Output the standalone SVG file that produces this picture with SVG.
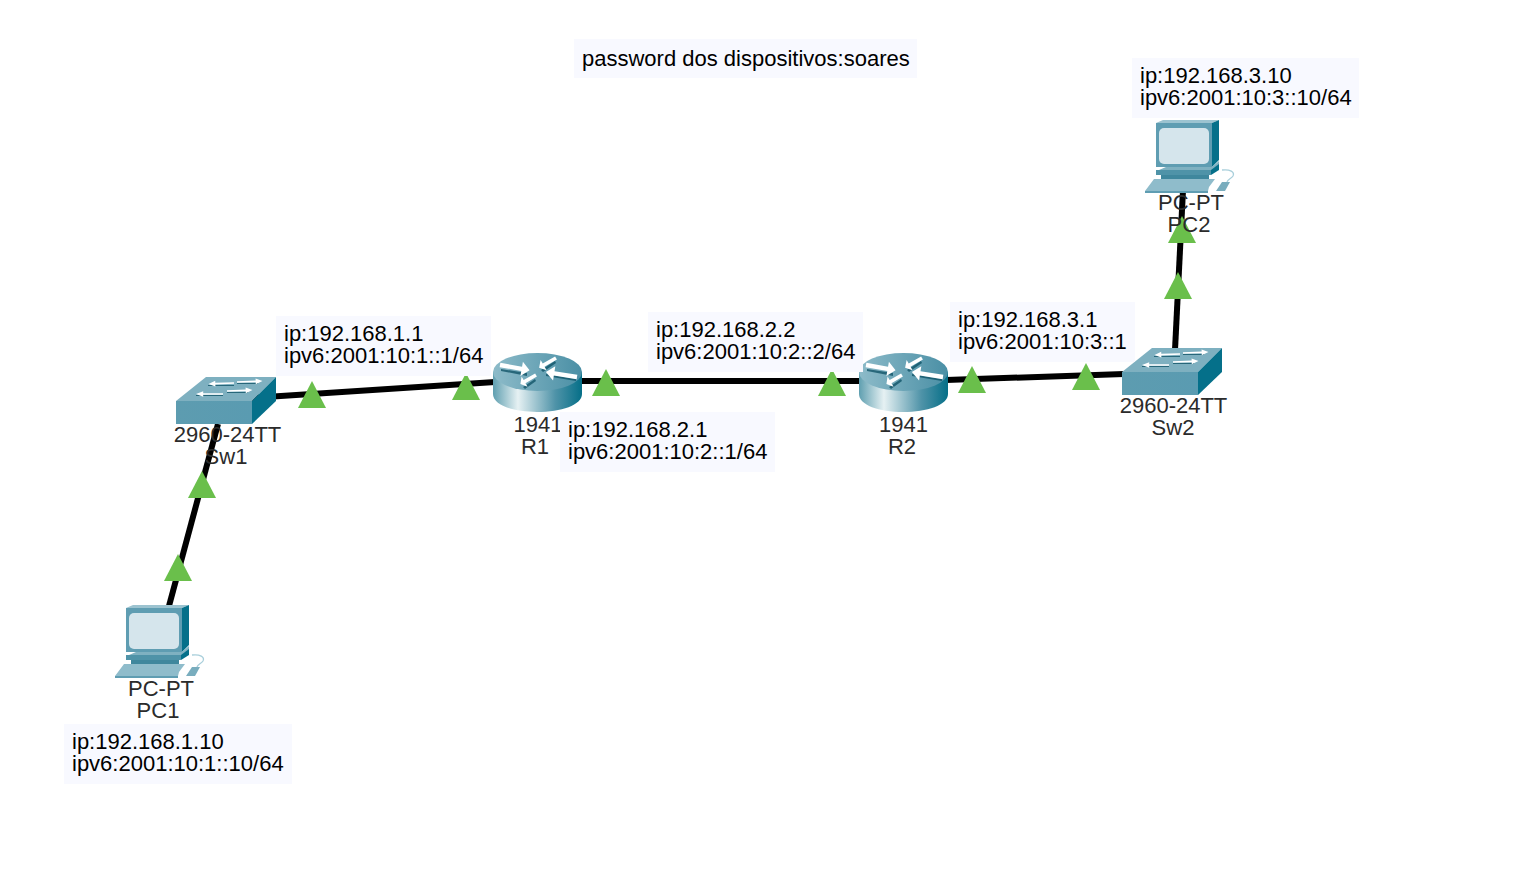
<svg xmlns="http://www.w3.org/2000/svg" width="1526" height="886" viewBox="0 0 1526 886">
<style>
.lbl{font-family:"Liberation Sans",Arial,sans-serif;font-size:22px;fill:#000}
.dev{font-family:"Liberation Sans",Arial,sans-serif;font-size:22px;fill:#2b2b2b;text-anchor:middle}
.note{fill:#f8f9ff}
.link{stroke:#000;stroke-width:6;fill:none}
.tri{fill:#6abf4b}
.ar{fill:#fff}
.sh{fill:#0b4f63;opacity:.75}
</style>
<defs>
<linearGradient id="cyl" x1="0" x2="1" y1="0" y2="0">
<stop offset="0" stop-color="#5f9fb0"/><stop offset=".28" stop-color="#e6f1f3"/><stop offset=".7" stop-color="#4f93a8"/><stop offset="1" stop-color="#056f88"/>
</linearGradient>
<linearGradient id="rtop" x1="0" x2="1" y1="0" y2="0">
<stop offset="0" stop-color="#8dbbc9"/><stop offset="1" stop-color="#4a8fa5"/>
</linearGradient>
<linearGradient id="swf" x1="0" x2="1" y1="0" y2="0">
<stop offset="0" stop-color="#5d9cb0"/><stop offset="1" stop-color="#5a9bb1"/>
</linearGradient>
<path id="a1" d="M0 -1.200H22V-4L30 0L22 4V1.200H0Z"/>
<g id="pc">
<path d="M126 608L133 605H189L182 608Z" fill="#9cc3d0"/>
<path d="M126 608H182V652H126Z" fill="#5f9db2"/>
<path d="M182 608L189 605V645L182 652Z" fill="#05708a"/>
<rect x="129" y="613" width="50" height="36" rx="5" fill="#d5e5ec"/>
<path d="M129 655L136 652H182L189 646V651L181 657H129Z" fill="#7fb1c1"/>
<path d="M126 655H181V660H126Z" fill="#4f93a8"/>
<path d="M181 655L189 649V655L181 660Z" fill="#05708a"/>
<path d="M131 660H179V664H131Z" fill="#3f879d"/>
<path d="M115 676L124 664H185L179 672H179L178 676Z" fill="#8fbccb"/>
<path d="M115 676H178V678H115Z" fill="#5f9db2"/>
<path d="M186 676L192 667H200L195 676Z" fill="#79adbe"/>
<path d="M192 655C200 654 205 657 203 661C201 664 198 664 197 667" fill="none" stroke="#a9cfdb" stroke-width="1.300"/>
</g>
<g id="sw">
<path d="M176 401L206 377H276L252 401Z" fill="#7eb0c0"/>
<path d="M176 401H252V424H176Z" fill="url(#swf)"/>
<path d="M252 401L276 377V401L252 424Z" fill="#05708a"/>
<g class="sh"><path d="M208 385H234V386H208ZM237 383H258V384H237ZM196 395H223V396H196ZM227 392H248V393H227Z"/></g>
<g class="ar">
<use href="#a1" transform="translate(234 383) rotate(178) scale(.85 .7)"/>
<use href="#a1" transform="translate(237 382) rotate(-2) scale(.85 .7)"/>
<use href="#a1" transform="translate(223 394) rotate(180) scale(.9 .7)"/>
<use href="#a1" transform="translate(227 391) rotate(-2) scale(.85 .7)"/>
</g>
</g>
<g id="rt">
<path d="M493 372V394C493 405 513 412 537 412S582 405 582 394V372Z" fill="url(#cyl)"/>
<ellipse cx="537.500" cy="372" rx="44.500" ry="19" fill="url(#rtop)"/>
<g class="sh">
<path d="M501 369L527 373L527 376L501 371Z"/>
<path d="M546 374L576 379L576 381L546 376Z"/>
<path d="M555 361L541 370L543 372L556 363Z"/>
<path d="M535 379L523 387L525 389L536 381Z"/>
</g>
<g class="ar">
<use href="#a1" transform="translate(500 365) rotate(10) scale(1 1.800)"/>
<use href="#a1" transform="translate(556 358) rotate(150) scale(.65 1.500)"/>
<use href="#a1" transform="translate(577 377) rotate(189) scale(1.050 1.800)"/>
<use href="#a1" transform="translate(536 375) rotate(150) scale(.6 1.500)"/>
</g>
</g>
</defs>
<g id="connectors">
<path class="link" d="M169 606L218 424"/>
<path class="link" d="M252 398L495 382"/>
<path class="link" d="M580 381H860"/>
<path class="link" d="M946 380L1124 374"/>
<path class="link" d="M1175 350L1183 190"/>
<path class="tri" d="M178 554L192 581H164Z"/>
<path class="tri" d="M202 471L216 498H188Z"/>
<path class="tri" d="M312 381L326 408H298Z"/>
<path class="tri" d="M466 373L480 400H452Z"/>
<path class="tri" d="M606 369L620 396H592Z"/>
<path class="tri" d="M832 369L846 396H818Z"/>
<path class="tri" d="M972 366L986 393H958Z"/>
<path class="tri" d="M1086 363L1100 390H1072Z"/>
<path class="tri" d="M1178 272L1192 299H1164Z"/>
<path class="tri" d="M1182 216L1196 243H1168Z"/>
</g>
<g id="note-password"><rect class="note" x="574" y="39" width="343" height="39"/><text class="lbl" x="582" y="65.500">password dos dispositivos:soares</text></g>
<g id="PC1"><use href="#pc"/><text class="dev" x="161" y="696">PC-PT</text><text class="dev" x="158" y="718">PC1</text></g>
<g id="Sw1"><use href="#sw"/><text class="dev" x="227.500" y="442">2960-24TT</text><text class="dev" x="226" y="464">Sw1</text></g>
<g id="R1"><use href="#rt"/><text class="dev" x="538" y="432">1941</text><text class="dev" x="535" y="454">R1</text></g>
<g id="R2"><use href="#rt" x="366"/><text class="dev" x="903.500" y="432">1941</text><text class="dev" x="902" y="454">R2</text></g>
<g id="Sw2"><use href="#sw" x="946" y="-29"/><text class="dev" x="1173.500" y="413">2960-24TT</text><text class="dev" x="1173" y="435">Sw2</text></g>
<g id="PC2"><use href="#pc" x="1030" y="-485"/><text class="dev" x="1191" y="210">PC-PT</text><text class="dev" x="1189" y="232">PC2</text></g>
<g id="note-pc1"><rect class="note" x="64" y="724" width="228" height="60"/><text class="lbl" x="72" y="749">ip:192.168.1.10</text><text class="lbl" x="72" y="771">ipv6:2001:10:1::10/64</text></g>
<g id="note-r1a"><rect class="note" x="276" y="316" width="215" height="60"/><text class="lbl" x="284" y="341">ip:192.168.1.1</text><text class="lbl" x="284" y="363">ipv6:2001:10:1::1/64</text></g>
<g id="note-r1b"><rect class="note" x="560" y="412" width="215" height="60"/><text class="lbl" x="568" y="437">ip:192.168.2.1</text><text class="lbl" x="568" y="459">ipv6:2001:10:2::1/64</text></g>
<g id="note-r2a"><rect class="note" x="648" y="312" width="215" height="60"/><text class="lbl" x="656" y="337">ip:192.168.2.2</text><text class="lbl" x="656" y="359">ipv6:2001:10:2::2/64</text></g>
<g id="note-r2b"><rect class="note" x="950" y="302" width="185" height="60"/><text class="lbl" x="958" y="327">ip:192.168.3.1</text><text class="lbl" x="958" y="349">ipv6:2001:10:3::1</text></g>
<g id="note-pc2"><rect class="note" x="1132" y="58" width="227" height="60"/><text class="lbl" x="1140" y="83">ip:192.168.3.10</text><text class="lbl" x="1140" y="105">ipv6:2001:10:3::10/64</text></g>
</svg>
